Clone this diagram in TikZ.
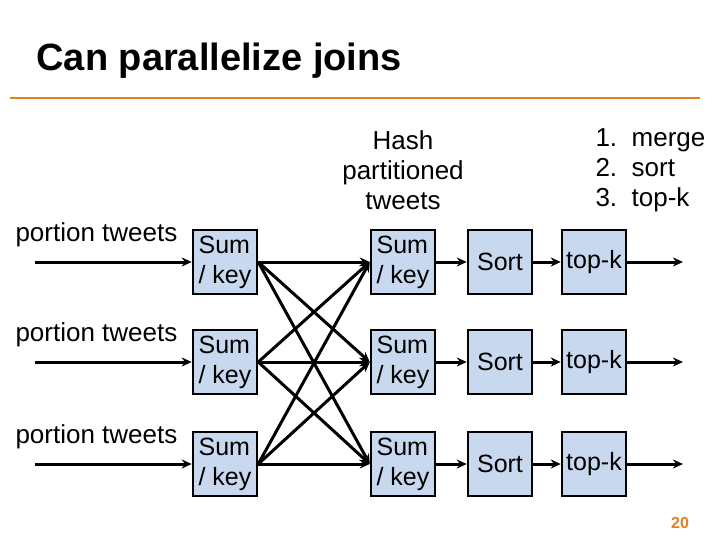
\documentclass[tikz,border=0pt]{standalone}
\usepackage{fontspec}
\setmainfont{Liberation Sans}
\usetikzlibrary{arrows.meta}
\definecolor{boxfill}{RGB}{200,216,238}
\definecolor{orng}{RGB}{230,126,34}
\begin{document}
\begin{tikzpicture}[x=1pt,y=-1pt,
  box/.style={draw=black,line width=2.5pt,fill=boxfill,minimum width=64pt,minimum height=64pt,inner sep=1pt,align=left,font=\fontsize{25}{30}\selectfont},
  conn/.style={line width=3pt,-{Stealth[length=10pt,width=9pt]}},
  lbl/.style={font=\fontsize{26}{30}\selectfont,align=center}]
\useasboundingbox (0,0) rectangle (720,540);
\node[anchor=west,font=\bfseries\fontsize{38}{42}\selectfont] (title) at (33,61) {Can parallelize joins};
\draw[orng,line width=2pt] (10,98) -- (700,98);
\node[lbl] (hash) at (403,170) {Hash\\partitioned\\tweets};
\node[lbl,align=left,anchor=west] (steps) at (592,170) {1.\ \ merge\\2.\ \ sort\\3.\ \ top-k};
\foreach \i/\y in {1/262,2/362,3/464}{
  \node[lbl,anchor=west] (p\i) at (12,\y-27) {portion tweets};
  \coordinate (in\i) at (35,\y);
  \node[box] (a\i) at (225,\y) {Sum\\/ key};
  \node[box] (b\i) at (403,\y) {Sum\\/ key};
  \node[box,align=center] (s\i) at (500,\y) {Sort};
  \node[box,align=center] (t\i) at (594,\y) {top-k};
  \coordinate (o\i) at (683,\y);
  \draw[conn] (in\i) -- (a\i);
  \draw[conn] (b\i) -- (s\i);
  \draw[conn] (s\i) -- (t\i);
  \draw[conn] (t\i) -- (o\i);
}
\foreach \i in {1,2,3}{\foreach \j in {1,2,3}{
  \draw[conn] (a\i.east) -- (b\j.west);
}}
\node[font=\bfseries\fontsize{16}{18}\selectfont,text=orng] (pg) at (680,523) {20};
\end{tikzpicture}
\end{document}
